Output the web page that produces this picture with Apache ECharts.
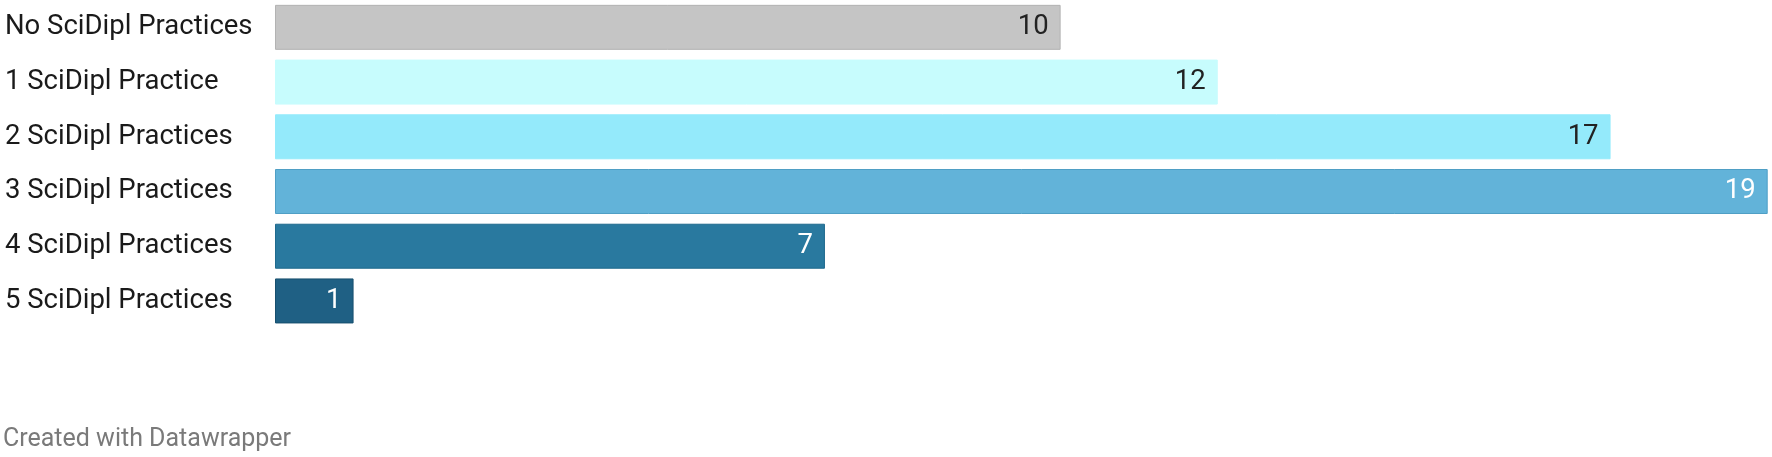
<!DOCTYPE html>
<html>
<head>
<meta charset="utf-8">
<script src="https://cdn.jsdelivr.net/npm/echarts@6/dist/echarts.min.js"></script>
<style>
html,body{margin:0;padding:0;background:#fff;}
#chart{width:1772px;height:457px;}
</style>
</head>
<body>
<div id="chart"></div>
<script>
const categories = ["No SciDipl Practices","1 SciDipl Practice","2 SciDipl Practices","3 SciDipl Practices","4 SciDipl Practices","5 SciDipl Practices"];
const values = [10, 12, 17, 19, 7, 1];
const barColors = ["#c5c5c5","#c7fcfd","#94eafb","#62b3d9","#29799f","#1f6084"];
const borderColors = ["#b3b3b3","#c7fcfd","#94eafb","#4f9fc5","#1f6a8e","#174f6e"];
const labelColors = ["#222222","#222222","#222222","#ffffff","#ffffff","#ffffff"];
const footer = "Created with Datawrapper";

const chart = echarts.init(document.getElementById('chart'), null, {renderer:'canvas'});
chart.setOption({
  animation:false,
  backgroundColor:'#ffffff',
  grid:{left:275, right:4.3, top:-1.7, height:330, containLabel:false},
  xAxis:{type:'value', min:0, max:19, show:false},
  yAxis:{type:'category', data:categories, inverse:true,
    axisLine:{show:false}, axisTick:{show:false}, splitLine:{show:false},
    axisLabel:{align:'left', margin:270, fontFamily:'Roboto', fontSize:27.5, color:'#1a1a1a'}},
  series:[{
    type:'bar', barWidth:45,
    data: values.map((v,i)=>({value:v,
      itemStyle:{color:barColors[i], borderColor:borderColors[i], borderWidth:1},
      label:{color:labelColors[i]}})),
    label:{show:true, position:'insideRight', distance:12, fontFamily:'Roboto', fontSize:27.5}
  }],
  graphic:[{type:'text', left:3, top:427, style:{text:footer, fontFamily:'Roboto', fontSize:25, fill:'#7a7a7a'}}]
});
</script>
</body>
</html>
